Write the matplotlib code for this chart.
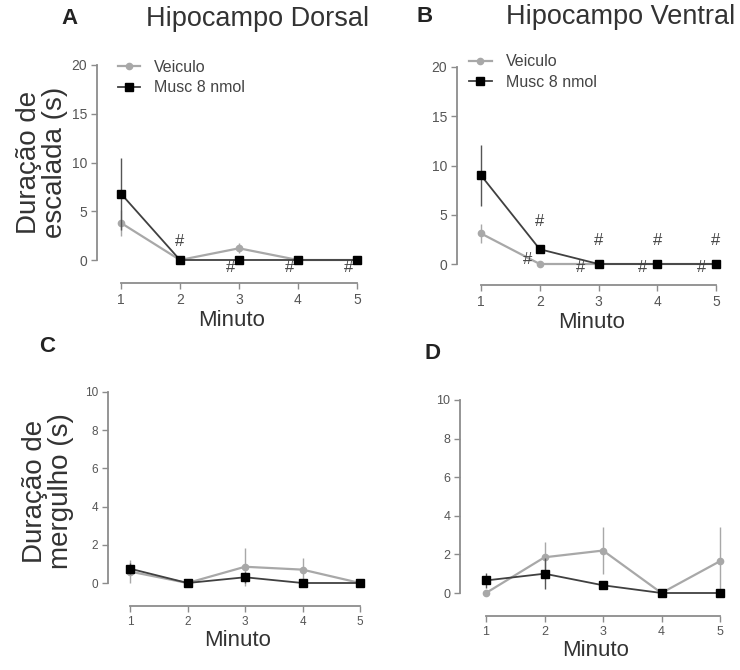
import matplotlib
matplotlib.use("Agg")
import matplotlib.pyplot as plt

plt.rcParams['font.family'] = ['Liberation Sans', 'DejaVu Sans']

minutos = [1, 2, 3, 4, 5]

# escalada (s)
dorsal_veic = [3.8, 0, 1.2, 0, 0]
dorsal_veic_err = [1.3, 0, 0.5, 0, 0]
dorsal_musc = [6.8, 0, 0, 0, 0]
dorsal_musc_err = [3.7, 0, 0, 0, 0]
ventral_veic = [3.1, 0, 0, 0, 0]
ventral_veic_err = [1.0, 0, 0, 0, 0]
ventral_musc = [9.0, 1.5, 0, 0, 0]
ventral_musc_err = [3.1, 0.4, 0, 0, 0]

# mergulho (s)
dorsal_veic_m = [0.6, 0, 0.85, 0.7, 0]
dorsal_veic_m_err = [0.6, 0, 1.0, 0.6, 0]
dorsal_musc_m = [0.75, 0, 0.3, 0, 0]
dorsal_musc_m_err = [0.3, 0, 0.3, 0, 0]
ventral_veic_m = [0, 1.85, 2.2, 0, 1.65]
ventral_veic_m_err = [0, 0.8, 1.2, 0, 1.75]
ventral_musc_m = [0.65, 1.0, 0.4, 0, 0]
ventral_musc_m_err = [0.4, 0.8, 0.2, 0, 0]

# "#" marks (x, y)
hash_a_x = [2, 2.85, 3.85, 4.85]
hash_a_y = [1.9, -0.8, -0.8, -0.8]
hash_b_x = [2, 3, 4, 5, 1.8, 2.7, 3.75, 4.75]
hash_b_y = [4.3, 2.4, 2.4, 2.4, 0.5, -0.4, -0.4, -0.4]

GRAY = '#a8a8a8'
AXC = '#8c8c8c'

fig = plt.figure(figsize=(7.4, 6.7), dpi=100)
W, H = 740, 670


def make_ax(spine_px, x1_px, x5_px, y0_px, ytop_px, ymax, xaxis_px, ylo, tsize):
    ppu = (x5_px - x1_px) / 4.0
    ppy = (y0_px - ytop_px) / ymax
    xlo, xhi = 0.5, 5.25
    yhi = ymax * 1.06
    left = x1_px + (xlo - 1) * ppu
    right = x1_px + (xhi - 1) * ppu
    top = y0_px - yhi * ppy
    bot = y0_px - ylo * ppy
    ax = fig.add_axes([left / W, 1 - bot / H, (right - left) / W, (bot - top) / H])
    ax.set_xlim(xlo, xhi)
    ax.set_ylim(ylo, yhi)
    for s in ['top', 'right']:
        ax.spines[s].set_visible(False)
    ax.spines['left'].set_position(('data', 1 - (x1_px - spine_px) / ppu))
    ax.spines['left'].set_bounds(0, ymax)
    ax.spines['bottom'].set_position(('data', -(xaxis_px - y0_px) / ppy))
    ax.spines['bottom'].set_bounds(1, 5)
    for s in ['left', 'bottom']:
        ax.spines[s].set_color(AXC)
        ax.spines[s].set_linewidth(1.3)
    ax.tick_params(colors=AXC, labelcolor='#555555', labelsize=tsize, length=4, width=1, pad=3)
    ax.set_xticks(minutos)
    ax.set_xlabel('Minuto', fontsize=16, color='#333333', labelpad=2)
    return ax


def draw(ax, veic, veic_err, musc, musc_err, legend_at=None):
    eb1 = ax.errorbar(minutos, veic, yerr=veic_err, color=GRAY, ecolor=GRAY, elinewidth=1,
                      lw=1.6, marker='o', ms=4.5, zorder=2)
    eb2 = ax.errorbar(minutos, musc, yerr=musc_err, color='#404040', ecolor='#555555', elinewidth=1,
                      lw=1.3, marker='s', ms=6, mfc='black', mec='black', zorder=3)
    if legend_at is not None:
        leg = ax.legend([eb1.lines[0], eb2.lines[0]], ['Veiculo', 'Musc 8 nmol'],
                        loc='upper left', bbox_to_anchor=legend_at, frameon=False, fontsize=11.5,
                        handlelength=1.4, labelspacing=0.35, handletextpad=0.9, borderaxespad=0)
        for t in leg.get_texts():
            t.set_color('#444444')


axA = make_ax(97, 121, 357, 260, 65, 20, 283, -3, 10)
axA.set_yticks([0, 5, 10, 15, 20])
draw(axA, dorsal_veic, dorsal_veic_err, dorsal_musc, dorsal_musc_err, legend_at=(0.07, 1.0))
for hx, hy in zip(hash_a_x, hash_a_y):
    axA.text(hx, hy, '#', ha='center', va='center', fontsize=12, color='#444444')

axB = make_ax(457, 481, 716, 264, 67, 20, 285, -3, 10)
axB.set_yticks([0, 5, 10, 15, 20])
draw(axB, ventral_veic, ventral_veic_err, ventral_musc, ventral_musc_err, legend_at=(0.04, 1.03))
for hx, hy in zip(hash_b_x, hash_b_y):
    axB.text(hx, hy, '#', ha='center', va='center', fontsize=12, color='#444444')

axC = make_ax(108, 130, 360, 583, 392, 10, 606, -1, 8.5)
axC.set_yticks([0, 2, 4, 6, 8, 10])
draw(axC, dorsal_veic_m, dorsal_veic_m_err, dorsal_musc_m, dorsal_musc_m_err)

axD = make_ax(460, 486, 720, 593, 400, 10, 616, -1, 9)
axD.set_yticks([0, 2, 4, 6, 8, 10])
draw(axD, ventral_veic_m, ventral_veic_m_err, ventral_musc_m, ventral_musc_m_err)

# panel letters and titles
fig.text(70 / W, 1 - 18 / H, 'A', fontsize=16, fontweight='bold', ha='center', va='center', color='#222222')
fig.text(425 / W, 1 - 17 / H, 'B', fontsize=16, fontweight='bold', ha='center', va='center', color='#222222')
fig.text(47 / W, 1 - 347 / H, 'C', fontsize=16, fontweight='bold', ha='center', va='center', color='#222222')
fig.text(432 / W, 1 - 353 / H, 'D', fontsize=16, fontweight='bold', ha='center', va='center', color='#222222')
fig.text(258 / W, 1 - 19 / H, 'Hipocampo Dorsal', fontsize=19.5, ha='center', va='center', color='#333333')
fig.text(621 / W, 1 - 17 / H, 'Hipocampo Ventral', fontsize=19.5, ha='center', va='center', color='#333333')

fig.text(42 / W, 1 - 162 / H, 'Duração de\nescalada (s)', fontsize=20, rotation=90,
         ha='center', va='center', color='#333333', linespacing=0.95)
fig.text(48 / W, 1 - 491 / H, 'Duração de\nmergulho (s)', fontsize=20, rotation=90,
         ha='center', va='center', color='#333333', linespacing=0.95)

fig.savefig('out.png', dpi=100)
